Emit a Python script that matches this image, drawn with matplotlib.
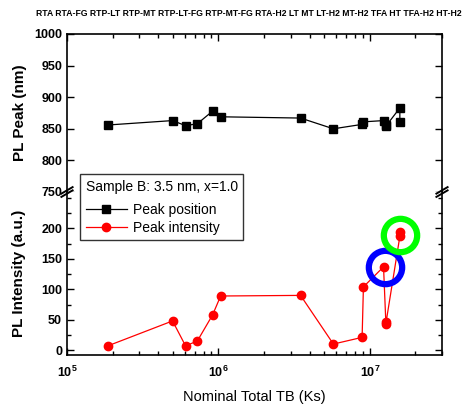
import numpy as np
import matplotlib
matplotlib.use('Agg')
import matplotlib.pyplot as plt
from matplotlib.lines import Line2D
from matplotlib.ticker import MultipleLocator, LogLocator, NullFormatter

plt.rcParams['font.family'] = ['Liberation Sans', 'DejaVu Sans']

# nominal total thermal budget (Ks), one per sample
tb = [1.86e5, 4.98e5, 6.07e5, 7.26e5, 9.16e5, 1.035e6, 3.49e6, 5.75e6,
      8.9e6, 9.08e6, 1.233e7, 1.276e7, 1.276e7, 1.58e7, 1.58e7]
peak_pos = [856, 863, 855, 858, 878, 869, 867, 850,
            857, 861, 863, 856, 854, 883, 861]
peak_int = [7, 48, 7, 15, 58, 89, 90, 10,
            21, 104, 137, 47, 43, 187, 195]
samples = ['RTA', 'RTA-FG', 'RTP-LT', 'RTP-MT', 'RTP-LT-FG', 'RTP-MT-FG',
           'RTA-H2', 'LT', 'MT', 'LT-H2', 'MT-H2', 'TFA', 'HT', 'TFA-H2', 'HT-H2']

# highlighted points (rings)
blue_ring = (1.265e7, 137)
green_ring = (1.58e7, 190)

fig = plt.figure(figsize=(4.67, 4.07), dpi=100)
W, H = 467, 407
left, right = 67 / W, 442 / W
ax_top = fig.add_axes([left, 1 - 192 / H, right - left, (192 - 34) / H])
ax_bot = fig.add_axes([left, 1 - 355 / H, right - left, (355 - 192) / H], sharex=ax_top)

ax_top.plot(tb, peak_pos, '-s', color='black', lw=0.9, ms=5.5)
ax_bot.plot(tb, peak_int, '-o', color='red', lw=0.9, ms=6)
ax_bot.plot(*blue_ring, 'o', ms=24, mfc='none', mec='#0000ff', mew=4.5)
ax_bot.plot(*green_ring, 'o', ms=24, mfc='none', mec='#00ff00', mew=4.5)

ax_top.set_xscale('log')
ax_top.set_xlim(1e5, 3e7)
ax_top.set_ylim(750, 1000)
ax_bot.set_ylim(-8, 260)

ax_top.spines['bottom'].set_visible(False)
ax_bot.spines['top'].set_visible(False)
for ax in (ax_top, ax_bot):
    for s in ax.spines.values():
        s.set_linewidth(1.2)
    ax.xaxis.set_major_locator(LogLocator(base=10))
    ax.xaxis.set_minor_locator(LogLocator(base=10, subs=np.arange(2, 10)))
    ax.xaxis.set_minor_formatter(NullFormatter())
    ax.tick_params(which='both', direction='in', right=True, width=1)
    ax.tick_params(which='major', length=5, labelsize=9)
    ax.tick_params(which='minor', length=3)

ax_top.tick_params(axis='x', which='both', bottom=False, top=True, labelbottom=False)
ax_bot.tick_params(axis='x', which='both', bottom=True, top=False, pad=7)
ax_bot.yaxis.set_minor_locator(MultipleLocator(25))
ax_top.set_yticks([750, 800, 850, 900, 950, 1000])
ax_bot.set_yticks([0, 50, 100, 150, 200])
for ax in (ax_top, ax_bot):
    for lab in ax.get_yticklabels() + ax.get_xticklabels():
        lab.set_fontweight('bold')

ax_top.set_ylabel('PL Peak (nm)', fontsize=11, fontweight='bold', labelpad=5)
ax_bot.set_ylabel('PL Intensity (a.u.)', fontsize=11, fontweight='bold', labelpad=11)
ax_bot.set_xlabel('Nominal Total TB (Ks)', fontsize=10.5, labelpad=7)

# break marks on the y axis
yb = 1 - 192 / H
for xb in (left, right):
    for dy in (-0.004, 0.004):
        fig.add_artist(Line2D([xb - 0.012, xb + 0.012], [yb + dy - 0.008, yb + dy + 0.008],
                              color='black', lw=1.4))

fig.text((35 + 463) / 2 / W, 1 - 14 / H, ' '.join(samples), ha='center', va='center',
         fontsize=6.2, fontweight='bold')

handles = [Line2D([], [], color='black', marker='s', lw=0.9, ms=5.5),
           Line2D([], [], color='red', marker='o', lw=0.9, ms=6)]
leg = fig.legend(handles, ['Peak position', 'Peak intensity'],
                 title='Sample B: 3.5 nm, x=1.0', alignment='left',
                 loc='upper left', bbox_to_anchor=(80 / W, 1 - 174 / H),
                 fontsize=10, title_fontsize=10, frameon=True, fancybox=False,
                 borderpad=0.4, labelspacing=0.25, handlelength=3.0, handletextpad=0.45,
                 borderaxespad=0)
leg.get_frame().set_edgecolor('black')
leg.get_frame().set_linewidth(1)
leg._legend_box.sep = 7

fig.savefig('out.png', dpi=100)
